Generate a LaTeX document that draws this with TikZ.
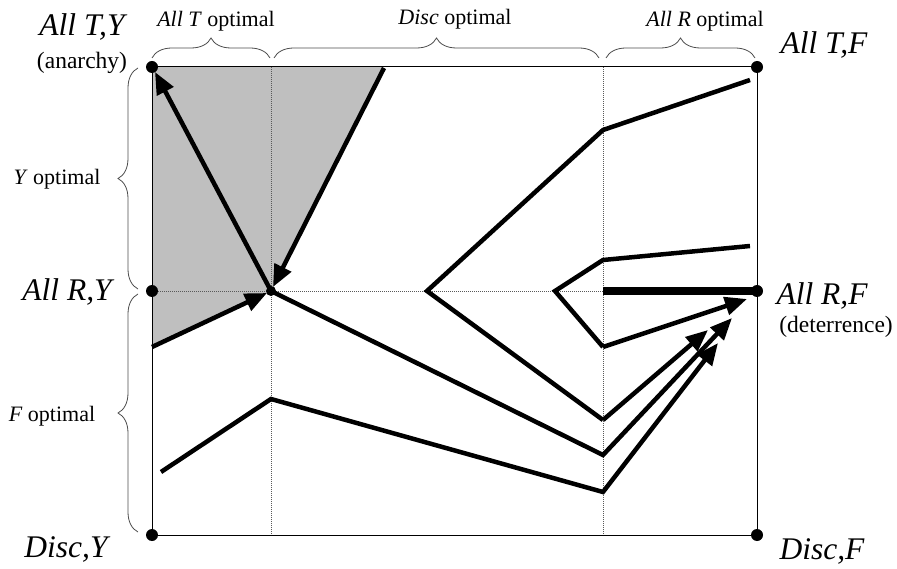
\documentclass[tikz,border=0pt]{standalone}
\usepackage{fontspec}
\setmainfont{Liberation Serif}
\usetikzlibrary{arrows.meta,decorations.pathreplacing}
\begin{document}
\begin{tikzpicture}[x=1pt,y=-1pt,
  dot/.style={circle,fill=black,inner sep=0pt,minimum size=12pt},
  frame/.style={line width=1pt,black},
  guide/.style={line width=0.8pt,gray!70!black,dash pattern=on 1.2pt off 0.8pt},
  traj/.style={line width=4.5pt,line join=miter,line cap=butt},
  arr/.style={traj,-{Triangle[length=22pt,width=18pt]}},
  brc/.style={decorate,decoration={brace,amplitude=20pt},line width=0.8pt,gray!60!black},
  big/.style={font=\fontsize{31.5}{33}\selectfont\itshape},
  lbl/.style={font=\fontsize{22}{24}\selectfont},
  note/.style={font=\fontsize{23.5}{25}\selectfont}
]
\useasboundingbox (0,0) rectangle (897,569);

% corner points
\coordinate (TL) at (152,67);
\coordinate (TR) at (757,67);
\coordinate (ML) at (152,291);
\coordinate (MR) at (757,291);
\coordinate (BL) at (152,535);
\coordinate (BR) at (757,535);
\coordinate (C) at (271,291);
\coordinate (G1) at (383,67);
\coordinate (G2) at (152,347);
\coordinate (V1t) at (271,67);
\coordinate (V1b) at (271,535);
\coordinate (V2t) at (603,67);
\coordinate (V2b) at (603,535);
\coordinate (V2m) at (603,291);

% shaded region
\fill[gray!50] (TL) -- (G1) -- (C) -- (G2) -- cycle;

% guides
\draw[guide] (V1t) -- (V1b);
\draw[guide] (V2t) -- (V2b);
\draw[guide] (ML) -- (MR);

% frame
\draw[frame] (TL) -- (TR) -- (BR) -- (BL) -- cycle;

% trajectory points
\coordinate (a1) at (155,72);
\coordinate (b0) at (384,68);
\coordinate (b1) at (273,287);
\coordinate (c1) at (267,293);
\coordinate (d1) at (603,455);
\coordinate (d2) at (732,318);
\coordinate (e0) at (161,472);
\coordinate (e1) at (271,399);
\coordinate (e2) at (603,492);
\coordinate (e3) at (718,343);
\coordinate (f0) at (427,291);
\coordinate (f1) at (603,130);
\coordinate (f2) at (750,80);
\coordinate (f3) at (603,420);
\coordinate (f4) at (708,330);
\coordinate (g0) at (555,291);
\coordinate (g1) at (603,260);
\coordinate (g2) at (750,246);
\coordinate (g3) at (603,347);
\coordinate (g4) at (747,299);

\draw[arr] (C) -- (a1);
\draw[arr] (b0) -- (b1);
\draw[arr] (G2) -- (c1);
\draw[arr] (C) -- (d1) -- (d2);
\draw[arr] (e0) -- (e1) -- (e2) -- (e3);
\draw[traj] (f2) -- (f1) -- (f0) -- (f3);
\draw[arr] (f3) -- (f4);
\draw[traj] (g2) -- (g1) -- (g0) -- (g3);
\draw[arr] (g3) -- (g4);
\draw[line width=8pt] (V2m) -- (MR);

% dots
\node[dot] (nTL) at (TL) {};
\node[dot] (nTR) at (TR) {};
\node[dot] (nML) at (ML) {};
\node[dot] (nMR) at (MR) {};
\node[dot] (nBL) at (BL) {};
\node[dot] (nBR) at (BR) {};
\node[dot,minimum size=10pt] (nC) at (C) {};

% braces
\coordinate (t1a) at (152,58);
\coordinate (t1b) at (270,58);
\coordinate (t2a) at (274,58);
\coordinate (t2b) at (599,58);
\coordinate (t3a) at (606,58);
\coordinate (t3b) at (755,58);
\coordinate (l1a) at (138,289);
\coordinate (l1b) at (138,68);
\coordinate (l2a) at (138,532);
\coordinate (l2b) at (138,294);
\draw[brc] (t1a) -- (t1b);
\draw[brc] (t2a) -- (t2b);
\draw[brc] (t3a) -- (t3b);
\draw[brc] (l1a) -- (l1b);
\draw[brc] (l2a) -- (l2b);

% labels
\node[lbl] (lt1) at (216,21) {\textit{All T} optimal};
\node[lbl] (lt2) at (455,19) {\textit{Disc} optimal};
\node[lbl] (lt3) at (705,21) {\textit{All R} optimal};
\node[lbl] (ll1) at (57,179) {\textit{Y} optimal};
\node[lbl] (ll2) at (52,416) {\textit{F} optimal};

\node[big] (lTY) at (82,27) {All T,Y};
\node[note] (lan) at (82,63) {(anarchy)};
\node[big] (lTF) at (824,45) {All T,F};
\node[big] (lRY) at (67,292) {All R,Y};
\node[big] (lRF) at (822,296) {All R,F};
\node[note] (lde) at (836,327) {(deterrence)};
\node[big] (lDY) at (66,549) {Disc,Y};
\node[big] (lDF) at (822,551) {Disc,F};
\end{tikzpicture}
\end{document}
